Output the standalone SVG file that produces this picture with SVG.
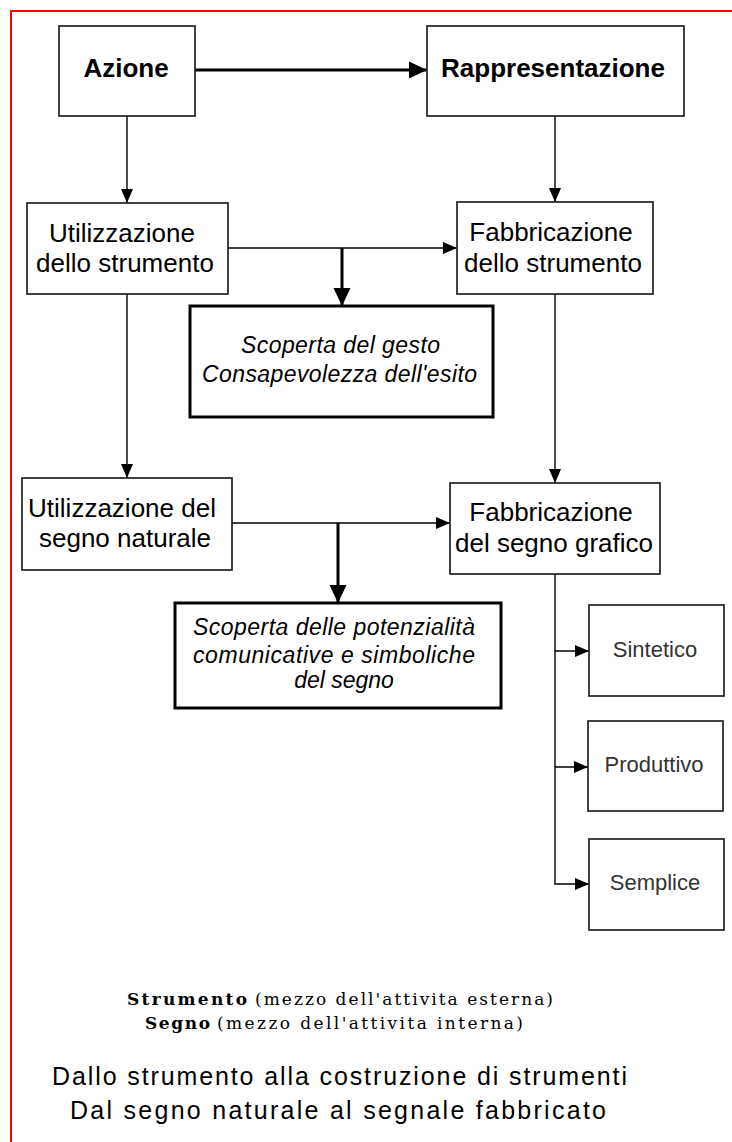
<svg xmlns="http://www.w3.org/2000/svg" width="732" height="1142" viewBox="0 0 732 1142">
<style>
.box{fill:#fff;stroke:#222;stroke-width:1.7}
.tbox{fill:#fff;stroke:#000;stroke-width:3}
.t{font-family:"Liberation Sans",Arial,sans-serif;font-size:26px;fill:#000;text-anchor:middle}
.b{font-weight:bold}
.i{font-family:"Liberation Sans",Arial,sans-serif;font-size:23px;font-style:italic;fill:#000}
.s{font-family:"Liberation Sans",Arial,sans-serif;font-size:22px;fill:#333;text-anchor:middle}
.c{fill:none;stroke:#000}
.thin{stroke-width:1.4}
.thick{stroke-width:3}
.serif{font-family:"DejaVu Serif","Liberation Serif",serif;font-size:17px;fill:#000}
.big{font-family:"Liberation Sans",Arial,sans-serif;font-size:25px;fill:#000}
</style>
<defs>
<marker id="ah" markerUnits="userSpaceOnUse" markerWidth="15" markerHeight="13" refX="14" refY="6.5" orient="auto" viewBox="0 0 15 13">
<path d="M0,0.5 L14,6.5 L0,12.5 z" fill="#000"/>
</marker>
<marker id="ahb" markerUnits="userSpaceOnUse" markerWidth="19" markerHeight="19" refX="18" refY="9" orient="auto" viewBox="0 0 19 19">
<path d="M0,0.5 L18,9 L0,17.5 z" fill="#000"/>
</marker>
</defs>
<rect x="0" y="0" width="732" height="1142" fill="#fff"/>
<rect x="11" y="11" width="780" height="1200" fill="none" stroke="#f00" stroke-width="2"/>

<g id="connectors">
<line class="c thick" x1="195" y1="70" x2="427" y2="70" marker-end="url(#ahb)"/>
<line class="c thin" x1="127" y1="116" x2="127" y2="203" marker-end="url(#ah)"/>
<line class="c thin" x1="555" y1="116" x2="555" y2="202" marker-end="url(#ah)"/>
<line class="c thin" x1="228" y1="248" x2="457" y2="248" marker-end="url(#ah)"/>
<line class="c thick" x1="342" y1="248" x2="342" y2="306" marker-end="url(#ahb)"/>
<line class="c thin" x1="127" y1="294" x2="127" y2="478" marker-end="url(#ah)"/>
<line class="c thin" x1="555" y1="294" x2="555" y2="483" marker-end="url(#ah)"/>
<line class="c thin" x1="232" y1="523" x2="450" y2="523" marker-end="url(#ah)"/>
<line class="c thick" x1="338" y1="523" x2="338" y2="603" marker-end="url(#ahb)"/>
<polyline class="c thin" points="555,574 555,884"/>
<line class="c thin" x1="555" y1="651" x2="589" y2="651" marker-end="url(#ah)"/>
<line class="c thin" x1="555" y1="767" x2="588" y2="767" marker-end="url(#ah)"/>
<line class="c thin" x1="554.3" y1="884" x2="589" y2="884" marker-end="url(#ah)"/>
</g>

<g id="azione">
<rect class="box" x="59" y="26" width="136" height="90"/>
<text class="t b" x="126" y="77">Azione</text>
</g>
<g id="rappresentazione">
<rect class="box" x="427" y="26" width="257" height="90"/>
<text class="t b" x="553" y="77">Rappresentazione</text>
</g>
<g id="utilizzazione-strumento">
<rect class="box" x="27" y="203" width="201" height="91"/>
<text class="t" x="122" y="242">Utilizzazione</text>
<text class="t" x="125" y="272">dello strumento</text>
</g>
<g id="fabbricazione-strumento">
<rect class="box" x="457" y="202" width="196" height="92"/>
<text class="t" x="551" y="241">Fabbricazione</text>
<text class="t" x="553" y="272">dello strumento</text>
</g>
<g id="scoperta-gesto">
<rect class="tbox" x="190" y="306" width="303" height="111"/>
<text class="i" x="241" y="353" textLength="199" lengthAdjust="spacing">Scoperta del gesto</text>
<text class="i" x="202" y="382" textLength="275" lengthAdjust="spacing">Consapevolezza dell'esito</text>
</g>
<g id="utilizzazione-segno">
<rect class="box" x="22" y="478" width="210" height="92"/>
<text class="t" x="122" y="517">Utilizzazione del</text>
<text class="t" x="125" y="547">segno naturale</text>
</g>
<g id="fabbricazione-segno">
<rect class="box" x="450" y="483" width="210" height="91"/>
<text class="t" x="551" y="521">Fabbricazione</text>
<text class="t" x="554" y="552">del segno grafico</text>
</g>
<g id="scoperta-potenzialita">
<rect class="tbox" x="175" y="603" width="326" height="105"/>
<text class="i" x="193" y="635" textLength="282" lengthAdjust="spacing">Scoperta delle potenzialità</text>
<text class="i" x="193" y="663" textLength="282" lengthAdjust="spacing">comunicative e simboliche</text>
<text class="i" x="344" y="688" text-anchor="middle">del segno</text>
</g>
<g id="sintetico">
<rect class="box" x="589" y="605" width="135" height="91"/>
<text class="s" x="655" y="657">Sintetico</text>
</g>
<g id="produttivo">
<rect class="box" x="588" y="721" width="135" height="90"/>
<text class="s" x="654" y="772">Produttivo</text>
</g>
<g id="semplice">
<rect class="box" x="589" y="839" width="135" height="91"/>
<text class="s" x="655" y="890">Semplice</text>
</g>

<g id="legenda">
<text class="serif" x="127" y="1005" font-weight="bold" textLength="120" lengthAdjust="spacing">Strumento</text>
<text class="serif" x="255" y="1005" textLength="298" lengthAdjust="spacing">(mezzo dell'attivita esterna)</text>
<text class="serif" x="145" y="1029" font-weight="bold" textLength="65" lengthAdjust="spacing">Segno</text>
<text class="serif" x="217" y="1029" textLength="306" lengthAdjust="spacing">(mezzo dell'attivita interna)</text>
</g>
<g id="titolo">
<text class="big" x="52" y="1085" textLength="575" lengthAdjust="spacing">Dallo strumento alla costruzione di strumenti</text>
<text class="big" x="70" y="1119" textLength="536" lengthAdjust="spacing">Dal segno naturale al segnale fabbricato</text>
</g>
</svg>
